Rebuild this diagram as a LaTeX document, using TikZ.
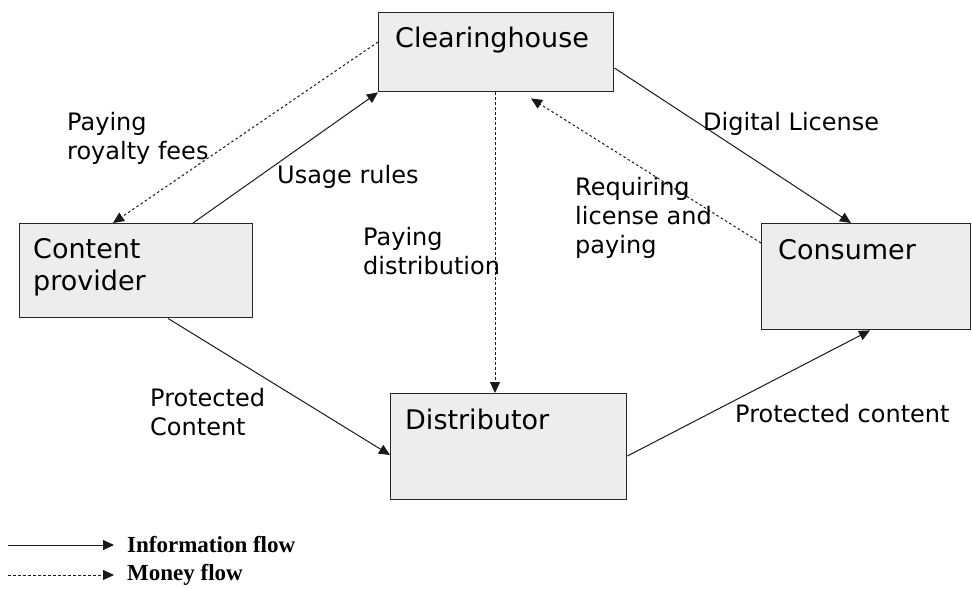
\documentclass[tikz,border=0pt]{standalone}
\usepackage{fontspec}
\setmainfont{DejaVu Sans}
\newfontfamily\legfont{Liberation Serif}
\usepackage{tikz}
\usetikzlibrary{arrows.meta,positioning}
\definecolor{boxgray}{rgb}{0.93,0.93,0.93}

\begin{document}
\begin{tikzpicture}[x=1pt,y=-1pt,
   box/.style={draw=black!85,line width=1.4pt,fill=boxgray,anchor=north west,inner sep=0pt},
   bt/.style={inner sep=0pt,align=left,font=\fontsize{27}{32}\selectfont},
   lb/.style={anchor=north west,inner sep=0pt,align=left,font=\fontsize{24}{29}\selectfont},
   info/.style={draw=black!90,line width=1pt,-{Triangle[length=11pt,width=10pt]}},
   money/.style={info,dash pattern=on 2.5pt off 2.5pt},
   leg/.style={anchor=west,inner sep=0pt,font=\fontsize{23}{26}\legfont\bfseries}]
  \useasboundingbox (0,0) rectangle (972,589);

  \node[box,minimum width=235pt,minimum height=79pt] (clr) at (378,12) {};
  \node[bt,below right=15pt and 17pt of clr.north west] (clrt) {Clearinghouse};
  \node[box,minimum width=233pt,minimum height=94pt] (cp) at (19,223) {};
  \node[bt,below right=15pt and 14pt of cp.north west] (cpt) {Content\\provider};
  \node[box,minimum width=209pt,minimum height=106pt] (cons) at (761,223) {};
  \node[bt,below right=16pt and 17pt of cons.north west] (const) {Consumer};
  \node[box,minimum width=236pt,minimum height=106pt] (dist) at (390,393) {};
  \node[bt,below right=16pt and 15pt of dist.north west] (distt) {Distributor};

  \draw[info] ([xshift=174pt]cp.north west) -- (clr.south west);
  \draw[money] ([yshift=-30pt]clr.north west) -- ([xshift=94pt]cp.north west);
  \draw[money] ([xshift=117pt]clr.south west) -- ([xshift=105pt]dist.north west);
  \draw[info] ([yshift=-56pt]clr.north east) -- ([xshift=90pt]cons.north west);
  \draw[money] ([yshift=-20pt]cons.north west) -- ([xshift=153pt,yshift=-6pt]clr.south west);
  \draw[info] ([xshift=149pt]cp.south west) -- ([yshift=-62pt]dist.north west);
  \draw[info] ([yshift=-63pt]dist.north east) -- ([xshift=109pt]cons.south west);

  \node[lb] (royl) at (67,112) {Paying\\royalty fees};
  \node[lb] (usel) at (277,165) {Usage rules};
  \node[lb] (payl) at (363,227) {Paying\\distribution};
  \node[lb] (digl) at (703,112) {Digital License};
  \node[lb] (reql) at (575,177) {Requiring\\license and\\paying};
  \node[lb] (prol) at (150,388) {Protected\\Content};
  \node[lb] (pro2l) at (735,404) {Protected content};

  \coordinate (inf0) at (8,545);
  \coordinate (mon0) at (8,575);
  \node[leg] (inft) at (127,545) {Information flow};
  \node[leg] (mont) at (127,575) {Money flow};
  \draw[info] (inf0) -- ([xshift=-13pt]inft.west);
  \draw[money] (mon0) -- ([xshift=-13pt]mont.west);
\end{tikzpicture}
\end{document}
